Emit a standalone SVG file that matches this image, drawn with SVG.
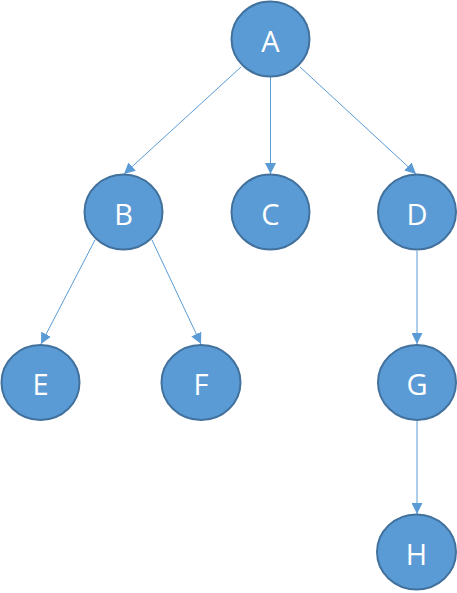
<svg xmlns="http://www.w3.org/2000/svg" width="457" height="593" viewBox="0 0 457 593">
<style>
.n ellipse{fill:#5B9BD5;stroke:#41719C;stroke-width:2}
.n text{fill:#fff;font-family:"Open Sans","Liberation Sans",sans-serif;font-size:29px;text-anchor:middle;dominant-baseline:central}
.e line{stroke:#5B9BD5;stroke-width:1;marker-end:url(#ah)}
</style>
<defs>
<marker id="ah" viewBox="0 0 10 10" refX="10" refY="5" markerWidth="11" markerHeight="11" markerUnits="userSpaceOnUse" orient="auto">
<path d="M0,0 L10,5 L0,10 Z" fill="#5B9BD5"/>
</marker>
</defs>
<rect width="457" height="593" fill="#fff"/>
<g id="connectors" class="e">
<line x1="241" y1="67" x2="124" y2="174"/>
<line x1="270.5" y1="77" x2="270.5" y2="174"/>
<line x1="300" y1="67" x2="416" y2="174"/>
<line x1="95" y1="240" x2="41" y2="344"/>
<line x1="152" y1="240" x2="201" y2="344"/>
<line x1="417" y1="251" x2="417" y2="344"/>
<line x1="417" y1="421" x2="417" y2="514"/>
</g>
<g id="A" class="n"><ellipse cx="270.5" cy="39" rx="39" ry="37.5"/><text x="270.5" y="40">A</text></g>
<g id="B" class="n"><ellipse cx="123.5" cy="212" rx="39" ry="37.5"/><text x="123.5" y="213">B</text></g>
<g id="C" class="n"><ellipse cx="270.5" cy="212" rx="39" ry="37.5"/><text x="270.5" y="213">C</text></g>
<g id="D" class="n"><ellipse cx="417" cy="212" rx="39" ry="37.5"/><text x="417" y="213">D</text></g>
<g id="E" class="n"><ellipse cx="40.5" cy="382.5" rx="39" ry="37.5"/><text x="40.5" y="383.5">E</text></g>
<g id="F" class="n"><ellipse cx="201" cy="382.5" rx="39.5" ry="37.5"/><text x="201" y="383.5">F</text></g>
<g id="G" class="n"><ellipse cx="417" cy="382.5" rx="39" ry="37.5"/><text x="417" y="383.5">G</text></g>
<g id="H" class="n"><ellipse cx="416.5" cy="552" rx="39.5" ry="37.5"/><text x="416.5" y="553">H</text></g>
</svg>
